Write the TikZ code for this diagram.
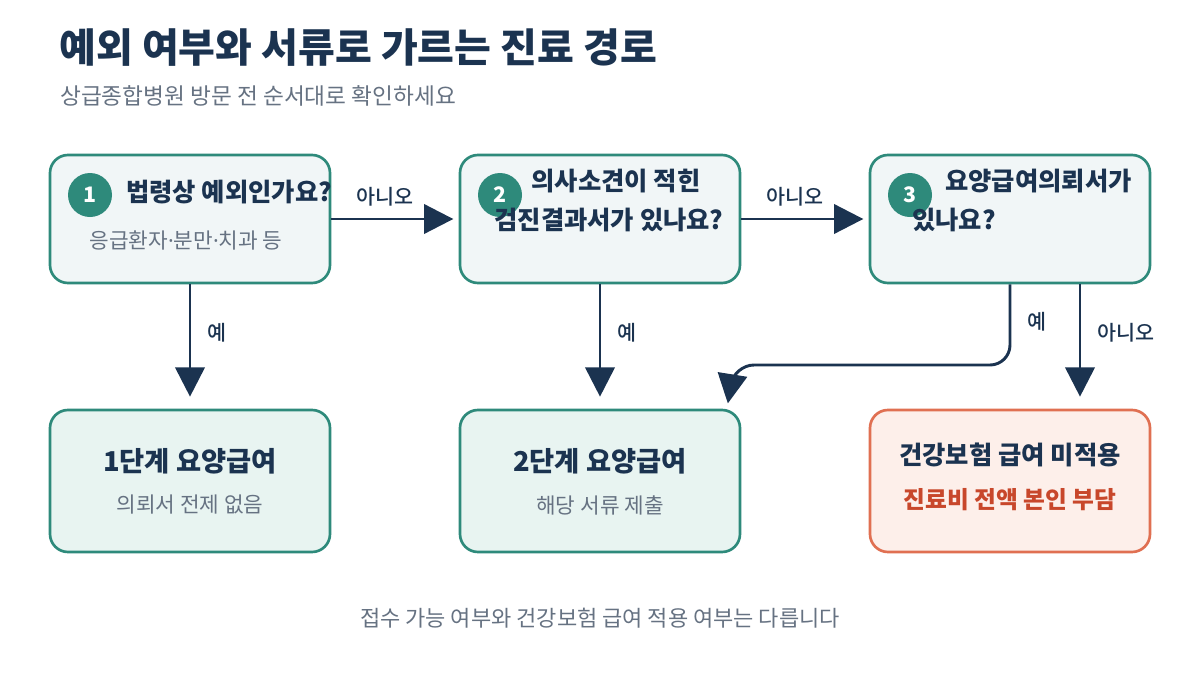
\documentclass[tikz,border=0pt]{standalone}
\usepackage{fontspec}
\setmainfont{Noto Sans CJK KR}
\newfontfamily\krmed{Noto Sans CJK KR Medium}
\newfontfamily\krheavy{Noto Sans CJK KR Black}
\newfontfamily\dotfont{Noto Sans}
\usetikzlibrary{arrows.meta}
\definecolor{ink}{HTML}{1B3350}
\definecolor{stepteal}{HTML}{2E8A7B}
\definecolor{askfill}{HTML}{F1F6F7}
\definecolor{endfill}{HTML}{E8F4F1}
\definecolor{warnline}{HTML}{E07052}
\definecolor{warnfill}{HTML}{FDEFEA}
\definecolor{warnink}{HTML}{C8472B}
\definecolor{note}{HTML}{667282}
\newcommand\setfs[1]{\fontsize{#1}{1.2\dimexpr#1\relax}\selectfont}
\newcommand\mdot{{\dotfont ·}}
\begin{document}
\begin{tikzpicture}[x=0.75pt,y=-0.75pt,
    askbox/.style={draw=stepteal, line width=2pt, fill=askfill, rounded corners=13.5pt,
      minimum width=210pt, minimum height=96pt},
    endbox/.style={askbox, fill=endfill, minimum height=106.5pt},
    warnbox/.style={endbox, draw=warnline, fill=warnfill},
    badge/.style={circle, fill=stepteal, minimum size=33pt, inner sep=0pt,
      text=white, font=\bfseries\setfs{16pt}},
    asktext/.style={text=ink, font=\bfseries\setfs{19pt}, inner sep=0pt},
    subtext/.style={text=note, font=\setfs{16pt}, inner sep=0pt},
    endtext/.style={text=ink, font=\krheavy\setfs{20.5pt}, inner sep=0pt},
    flow/.style={draw=ink, line width=2.2pt, -{Triangle[length=22pt,width=22pt]}},
    flowlabel/.style={text=ink, font=\krmed\setfs{15.5pt}, inner sep=0pt}]
                \useasboundingbox[fill=white] (0,0) rectangle (1200,675);
                % heading
                \node[anchor=west, text=ink, font=\krheavy\setfs{30pt}, inner sep=0pt]
                  (title) at (59,48) {예외 여부와 서류로 가르는 진료 경로};
                \node[anchor=west, text=note, font=\setfs{17pt}, inner sep=0pt]
                  (subtitle) at (60,96) {상급종합병원 방문 전 순서대로 확인하세요};
                % questions
                \node[askbox] (q1) at (190,219) {};
                \node[askbox] (q2) at (600,219) {};
                \node[askbox] (q3) at (1010,219) {};
                \node[badge] (b1) at (90,195) {1};
                \node[badge] (b2) at (500,195) {2};
                \node[badge] (b3) at (910,195) {3};
                \node[asktext, anchor=west] (q1t) at (126,192) {법령상 예외인가요?};
                \node[subtext] (q1s) at (186,240) {응급환자\mdot 분만\mdot 치과 등};
                \node[asktext] (q2t) at (616,181) {의사소견이 적힌};
                \node[asktext] (q2u) at (609,220) {검진결과서가 있나요?};
                \node[asktext, anchor=west] (q3t) at (945,181) {요양급여의뢰서가};
                \node[asktext, anchor=west] (q3u) at (912,220) {있나요?};
                % outcomes
                \node[endbox] (r1) at (190,481) {};
                \node[endbox] (r2) at (600,481) {};
                \node[warnbox] (r3) at (1010,481) {};
                \node[endtext] (r1t) at (190,461) {1단계 요양급여};
                \node[subtext] (r1s) at (190,505) {의뢰서 전제 없음};
                \node[endtext] (r2t) at (600,461) {2단계 요양급여};
                \node[subtext] (r2s) at (600,505) {해당 서류 제출};
                \node[asktext] (r3t) at (1010,455) {건강보험 급여 미적용};
                \node[text=warnink, font=\bfseries\setfs{17.8pt}, inner sep=0pt]
                  (r3s) at (1010,500) {진료비 전액 본인 부담};
                % connectors
                \draw[flow, shorten >=4pt] (q1) -- (q2);
                \draw[flow, shorten >=4pt] (q2) -- (q3);
                \draw[flow, shorten >=9pt] (q1) -- (r1);
                \draw[flow, shorten >=9pt] (q2) -- (r2);
                \draw[flow, shorten >=9pt] ([xshift=52.5pt]q3.south) -- ([xshift=52.5pt]r3.north);
                \draw[flow, rounded corners=15pt, shorten >=4pt]
                  (q3.south) -- (1010,365) -- (734,365) -- ([xshift=95.25pt]r2.north);
                \node[flowlabel] (n1) at (385,197) {아니오};
                \node[flowlabel] (n2) at (795,197) {아니오};
                \node[flowlabel] (y1) at (217,333) {예};
                \node[flowlabel] (y2) at (627,333) {예};
                \node[flowlabel] (y3) at (1037,322) {예};
                \node[flowlabel] (n3) at (1126,333) {아니오};
                % footnote
                \node[text=note, font=\setfs{16.5pt}, inner sep=0pt]
                  (foot) at (600,618) {접수 가능 여부와 건강보험 급여 적용 여부는 다릅니다};
              \end{tikzpicture}
\end{document}
